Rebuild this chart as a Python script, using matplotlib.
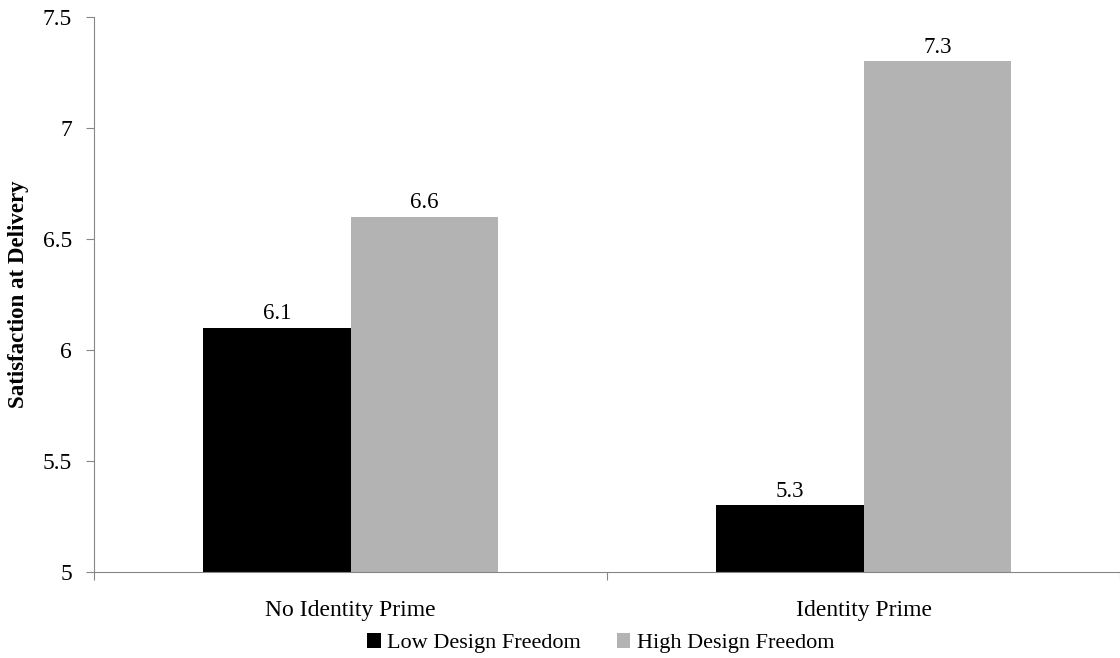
import matplotlib.pyplot as plt
import numpy as np

plt.rcParams['font.family'] = ['Liberation Serif', 'DejaVu Serif']

categories = ["No Identity Prime", "Identity Prime"]
series_names = ["Low Design Freedom", "High Design Freedom"]
low_values = [6.1, 5.3]
high_values = [6.6, 7.3]
colors = ["#000000", "#b3b3b3"]

fig = plt.figure(figsize=(11.2, 6.58), dpi=100)
ax = fig.add_axes([0.084, 0.131, 0.916, 0.843])

x = np.arange(len(categories))
w = 0.288
b1 = ax.bar(x - w / 2, low_values, w, color=colors[0], label=series_names[0])
b2 = ax.bar(x + w / 2, high_values, w, color=colors[1], label=series_names[1])

for bars, vals in [(b1, low_values), (b2, high_values)]:
    for rect, v in zip(bars, vals):
        ax.text(rect.get_x() + rect.get_width() / 2, v + 0.015, f"{v:.1f}",
                ha='center', va='bottom', fontsize=16.5)

ax.set_ylim(5, 7.5)
ax.set_yticks([5, 5.5, 6, 6.5, 7, 7.5])
ax.set_yticklabels(["5", "5.5", "6", "6.5", "7", "7.5"], fontsize=17)
ax.set_xlim(-0.5, 1.5)
ax.set_xticks([-0.5, 0.5, 1.5])
ax.set_xticklabels([])
ax.set_xticks(x, minor=True)
ax.set_xticklabels(categories, minor=True, fontsize=17)
ax.tick_params(axis='x', which='minor', length=0, pad=20)
ax.tick_params(axis='x', which='major', length=6, color='#868686')
ax.tick_params(axis='y', length=6, color='#868686', pad=10)

ax.set_ylabel("Satisfaction at Delivery", fontsize=16.5, fontweight='bold', labelpad=10)

for s in ['top', 'right']:
    ax.spines[s].set_visible(False)
for s in ['left', 'bottom']:
    ax.spines[s].set_color('#868686')

ax.legend(loc='upper center', bbox_to_anchor=(0.494, -0.075), ncol=2, frameon=False,
          fontsize=16, handlelength=0.6, handleheight=0.6, handletextpad=0.3,
          columnspacing=1.6)

fig.savefig("out.png", dpi=100)
